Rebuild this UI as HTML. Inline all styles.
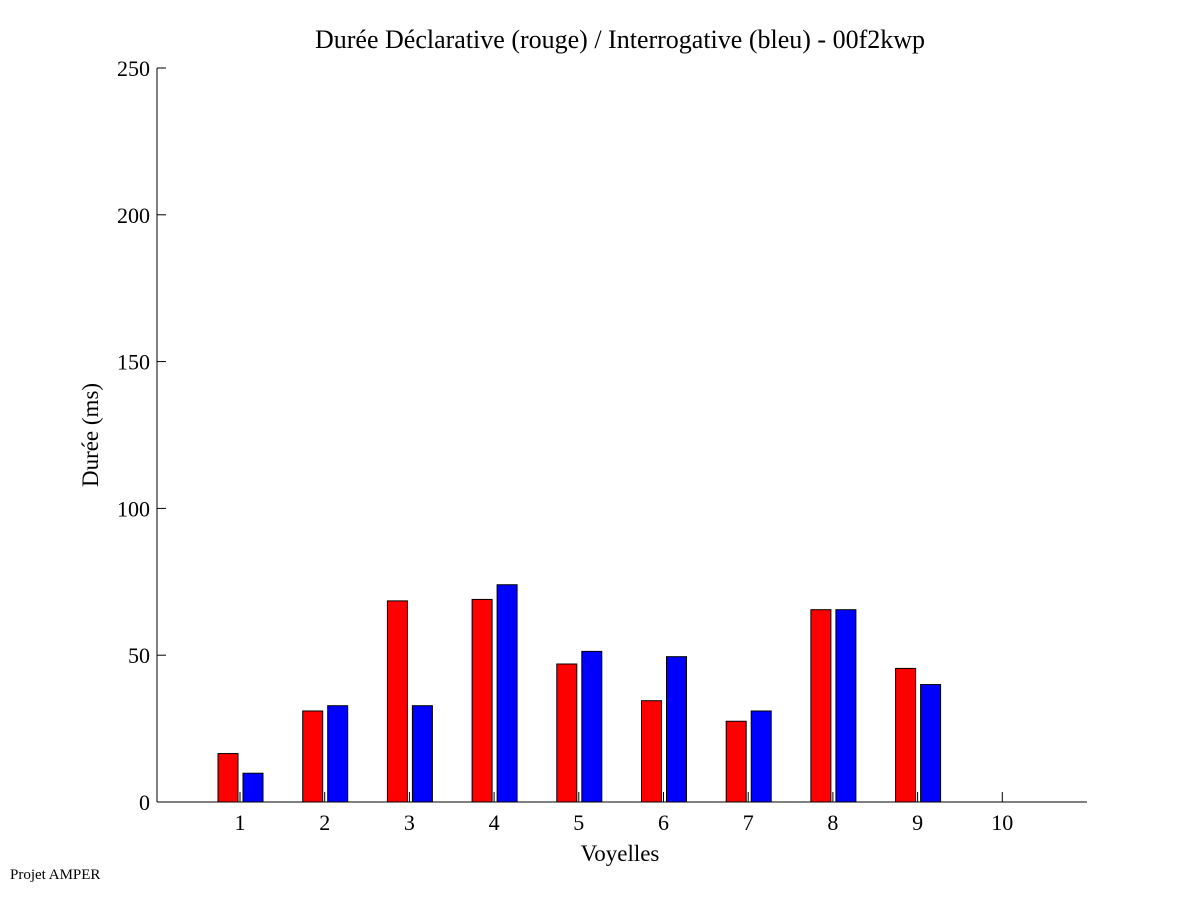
<!DOCTYPE html>
<html><head><meta charset="utf-8"><style>
body{margin:0;background:#fff;}
svg text{font-family:"Liberation Serif",serif;fill:#000;}
</style></head><body>
<svg id="chart" width="1201" height="901" xmlns="http://www.w3.org/2000/svg">
<rect width="1201" height="901" fill="#fff"/>
<text x="620" y="48" font-size="26" text-anchor="middle">Durée Déclarative (rouge) / Interrogative (bleu) - 00f2kwp</text>
<text x="620" y="861" font-size="23" text-anchor="middle">Voyelles</text>
<text transform="translate(98,435) rotate(-90)" font-size="23" text-anchor="middle">Durée (ms)</text>
<text x="10" y="879" font-size="15">Projet AMPER</text>
<g id="bars"></g>
<g id="axes"></g>
</svg>
<script>
const categories=["1","2","3","4","5","6","7","8","9","10"];
const redValues=[16.5,31,68.5,69,47,34.5,27.5,65.5,45.5,0];
const blueValues=[9.8,32.8,32.8,74,51.3,49.5,31,65.5,40,0];
const yTicks=[0,50,100,150,200,250];
const NS="http://www.w3.org/2000/svg";
const x0=157,x1=1087,yTop=68,yBot=802;
function xs(i){return 240+i*84.7;}
function ys(v){return yBot-(v/250)*(yBot-yTop);}
function mk(tag,attrs,parent){const e=document.createElementNS(NS,tag);for(const k in attrs)e.setAttribute(k,attrs[k]);parent.appendChild(e);return e;}
const bars=document.getElementById('bars'),axes=document.getElementById('axes');
categories.forEach((c,i)=>{
  if(redValues[i]>0){
    const r=mk('rect',{x:xs(i)-22,y:ys(redValues[i]),width:20,height:yBot-ys(redValues[i]),fill:'#ff0000',stroke:'#000','stroke-width':1},bars);
    
    
  }
  if(blueValues[i]>0){
    const b=mk('rect',{x:xs(i)+3,y:ys(blueValues[i]),width:20,height:yBot-ys(blueValues[i]),fill:'#0000ff',stroke:'#000','stroke-width':1},bars);
    
    
  }
  const t=mk('line',{x1:xs(i),x2:xs(i),y1:yBot,y2:yBot-10,stroke:'#000'},axes);
  
  
  const l=mk('text',{x:xs(i),y:830,'font-size':22,'text-anchor':'middle'},axes);
  l.textContent=c;
  
  
});
yTicks.forEach(v=>{
  const t=mk('line',{x1:x0,x2:x0+9,y1:ys(v),y2:ys(v),stroke:'#000'},axes);
  
  
  const l=mk('text',{x:x0-7,y:ys(v)+8,'font-size':22,'text-anchor':'end'},axes);
  l.textContent=v;
  
  
});
const ya=mk('line',{x1:x0,x2:x0,y1:yTop,y2:yBot,stroke:'#000'},axes);


const xa=mk('line',{x1:x0,x2:x1,y1:yBot,y2:yBot,stroke:'#000'},axes);


</script>
</body></html>
